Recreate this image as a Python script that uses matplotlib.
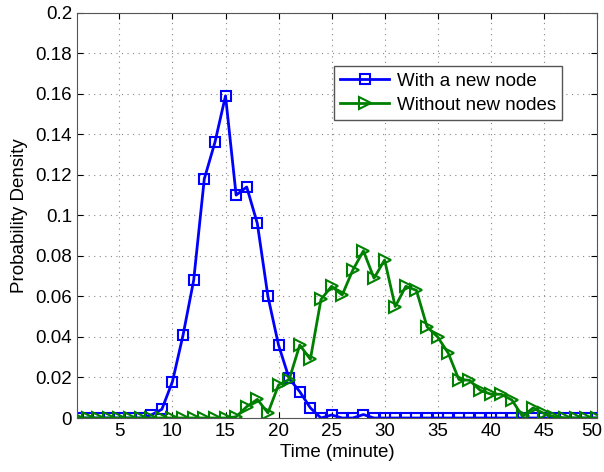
import matplotlib
matplotlib.use('Agg')
import matplotlib.pyplot as plt
import matplotlib.transforms as mtransforms
from matplotlib.ticker import FuncFormatter

time_min = list(range(1, 51))
with_node = [0, 0, 0, 0, 0, 0, 0, 0.0015, 0.0043, 0.018,
             0.041, 0.068, 0.118, 0.136, 0.159, 0.110, 0.114, 0.096, 0.060, 0.036,
             0.0195, 0.013, 0.005, 0, 0.0015, 0, 0, 0.0017, 0, 0,
             0, 0, 0, 0, 0, 0, 0, 0, 0, 0,
             0, 0, 0, 0, 0, 0, 0, 0, 0, 0]
without_node = [0, 0, 0, 0, 0, 0, 0, 0, 0, 0,
                0, 0, 0, 0, 0, 0.0006, 0.0056, 0.0092, 0.0025, 0.0163,
                0.019, 0.036, 0.029, 0.0585, 0.065, 0.0607, 0.073, 0.0825, 0.069, 0.078,
                0.055, 0.065, 0.063, 0.045, 0.040, 0.032, 0.019, 0.0186, 0.0137, 0.0118,
                0.0117, 0.0089, 0.0008, 0.005, 0.0023, 0.0006, 0, 0, 0, 0]

plt.rcParams['font.family'] = ['Liberation Sans', 'DejaVu Sans']
fs = 13.5

fig = plt.figure(figsize=(6.04, 4.72), dpi=100)
ax = fig.add_axes([0.1275, 0.1144, 0.8605, 0.8586])

ax.plot(time_min, with_node, color='#0000ff', lw=2, marker='s', ms=7,
        mfc='none', mew=1.5, label='With a new node')
ax.plot(time_min, without_node, color='#008000', lw=2, marker='>', ms=9,
        mfc='none', mew=1.5, label='Without new nodes')

ax.set_xlim(1, 50)
ax.set_ylim(0, 0.2)
ax.set_xticks(range(5, 51, 5))
ax.set_yticks([i * 0.02 for i in range(11)])
ax.yaxis.set_major_formatter(FuncFormatter(lambda v, p: '%g' % round(v, 2)))
ax.tick_params(direction='in', top=True, right=True, length=4, labelsize=fs)
ax.grid(True, linestyle=(0, (1, 4)), color='#888888', lw=0.8)
for s in ax.spines.values():
    s.set_color('#555555')

# the last x label sits a little to the left so it stays inside the figure
fig.canvas.draw()
last = ax.get_xticklabels()[-1]
last.set_transform(last.get_transform() + mtransforms.ScaledTranslation(-5 / 100, 0, fig.dpi_scale_trans))

ax.set_xlabel('Time (minute)', fontsize=fs, labelpad=3)
ax.set_ylabel('Probability Density', fontsize=fs, labelpad=5)

leg = ax.legend(loc='upper left', bbox_to_anchor=(0.494, 0.868), borderaxespad=0,
                fancybox=False, framealpha=1, edgecolor='#555555', fontsize=fs,
                handlelength=2.6, handletextpad=0.4, borderpad=0.35, labelspacing=0.35)
leg.get_frame().set_linewidth(1.0)

fig.savefig('out.png', dpi=100)
